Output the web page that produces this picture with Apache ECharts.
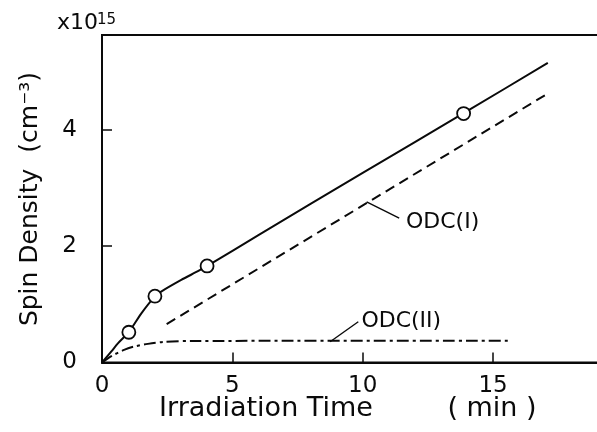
<!DOCTYPE html>
<html>
<head>
<meta charset="utf-8">
<script src="https://cdn.jsdelivr.net/npm/echarts@6/dist/echarts.min.js"></script>
<style>
html,body{margin:0;padding:0;background:#fff;}
#c{width:597px;height:432px;}
</style>
</head>
<body>
<div id="c"></div>
<script>
// ---- data ----
const solidX = [0, 0.36, 0.61, 1.04, 1.51, 2.04, 2.27, 3.04, 3.68, 4.04, 6, 10, 14, 17.1];
const solidY = [0, 0.19, 0.33, 0.53, 0.845, 1.14, 1.22, 1.42, 1.57, 1.66, 2.19, 3.26, 4.32, 5.15];
const circleX = [1.03, 2.03, 4.03, 13.87];
const circleY = [0.52, 1.14, 1.66, 4.28];
const odc1X = [2.48, 17.12];
const odc1Y = [0.66, 4.63];
const odc2X = [0, 0.36, 0.87, 1.2, 1.76, 2.4, 3.5, 15.6];
const odc2Y = [0, 0.11, 0.22, 0.27, 0.32, 0.355, 0.37, 0.375];
// annotation leader lines and labels
const leader1X = [10.15, 11.40];
const leader1Y = [2.76, 2.48];
const leader2X = [8.75, 9.83];
const leader2Y = [0.357, 0.70];
const labelNames = ['ODC(I)', 'ODC(II)'];
const labelX = [11.66, 9.95];
const labelY = [2.41, 0.71];
const xTicks = [0, 5, 10, 15];
const yTicks = [0, 2, 4];

const FONT = 'DejaVu Sans';
const INK = '#0a0a0a';
const pairs = (xs, ys) => xs.map((x, i) => [x, ys[i]]);

const chart = echarts.init(document.getElementById('c'), null, {renderer: 'canvas'});
const lineCommon = {
  type: 'line', showSymbol: false, symbol: 'none', silent: true, animation: false
};
chart.setOption({
  animation: false,
  backgroundColor: '#fff',
  grid: {left: 102, right: -4, top: 35, bottom: 69.5, containLabel: false,
    outerBoundsMode: 'none',
    show: true, borderColor: INK, borderWidth: 2, backgroundColor: 'transparent'},
  xAxis: {
    type: 'value', min: 0, max: 19.14, interval: 5,
    axisLine: {show: true, onZero: false, lineStyle: {color: INK, width: 2}},
    axisTick: {show: true, inside: true, length: 10, lineStyle: {color: INK, width: 1.5}},
    axisLabel: {show: true, margin: 12, color: INK, fontFamily: FONT, fontSize: 23,
      showMaxLabel: false,
      formatter: v => xTicks.includes(v) ? String(v) : ''},
    splitLine: {show: false}
  },
  yAxis: {
    type: 'value', min: 0, max: 5.63, interval: 2,
    axisLine: {show: true, onZero: false, lineStyle: {color: INK, width: 2}},
    axisTick: {show: true, inside: true, length: 10, lineStyle: {color: INK, width: 1.5}},
    axisLabel: {show: true, margin: 25, color: INK, fontFamily: FONT, fontSize: 23,
      formatter: v => yTicks.includes(v) ? String(v) : ''},
    splitLine: {show: false}
  },
  series: [
    Object.assign({}, lineCommon, {
      name: 'total', smooth: 0.25, data: pairs(solidX, solidY),
      lineStyle: {color: INK, width: 2}
    }),
    Object.assign({}, lineCommon, {
      name: 'ODC(I)', data: pairs(odc1X, odc1Y),
      lineStyle: {color: INK, width: 2, type: [10, 6]}
    }),
    Object.assign({}, lineCommon, {
      name: 'ODC(II)', smooth: 0.3, data: pairs(odc2X, odc2Y),
      lineStyle: {color: INK, width: 2, type: [12, 4, 3, 4]}
    }),
    Object.assign({}, lineCommon, {
      name: 'leader1', data: pairs(leader1X, leader1Y),
      lineStyle: {color: INK, width: 1.4}
    }),
    Object.assign({}, lineCommon, {
      name: 'leader2', data: pairs(leader2X, leader2Y),
      lineStyle: {color: INK, width: 1.4}
    }),
    {
      type: 'scatter', name: 'measured', silent: true,
      data: pairs(circleX, circleY), symbol: 'circle', symbolSize: 13,
      itemStyle: {color: '#fff', borderColor: INK, borderWidth: 1.8, opacity: 1}, z: 5
    },
    {
      type: 'scatter', name: 'labels', silent: true,
      data: labelNames.map((n, i) => ({name: n, value: [labelX[i], labelY[i]]})),
      symbolSize: 0, itemStyle: {color: 'rgba(0,0,0,0)', opacity: 1},
      label: {show: true, position: 'right', distance: 0, formatter: p => p.name,
        color: INK, opacity: 1, fontFamily: FONT, fontSize: 22}
    }
  ],
  graphic: [
    {type: 'text', x: 266, y: 409, style: {text: 'Irradiation Time', font: '27px "DejaVu Sans"', fill: INK, textAlign: 'center', textVerticalAlign: 'middle'}},
    {type: 'text', x: 492, y: 409, style: {text: '( min )', font: '27px "DejaVu Sans"', fill: INK, textAlign: 'center', textVerticalAlign: 'middle'}},
    {type: 'text', x: 30, y: 199, rotation: Math.PI / 2, style: {text: 'Spin Density  (cm⁻³)', font: '25px "DejaVu Sans"', fill: INK, textAlign: 'center', textVerticalAlign: 'middle'}},
    {type: 'text', x: 57, y: 34, style: {text: 'x10', font: '22px "DejaVu Sans"', fill: INK, textAlign: 'left', textVerticalAlign: 'bottom'}},
    {type: 'text', x: 97, y: 28, style: {text: '15', font: '15px "DejaVu Sans"', fill: INK, textAlign: 'left', textVerticalAlign: 'bottom'}}
  ]
});
</script>
</body>
</html>
